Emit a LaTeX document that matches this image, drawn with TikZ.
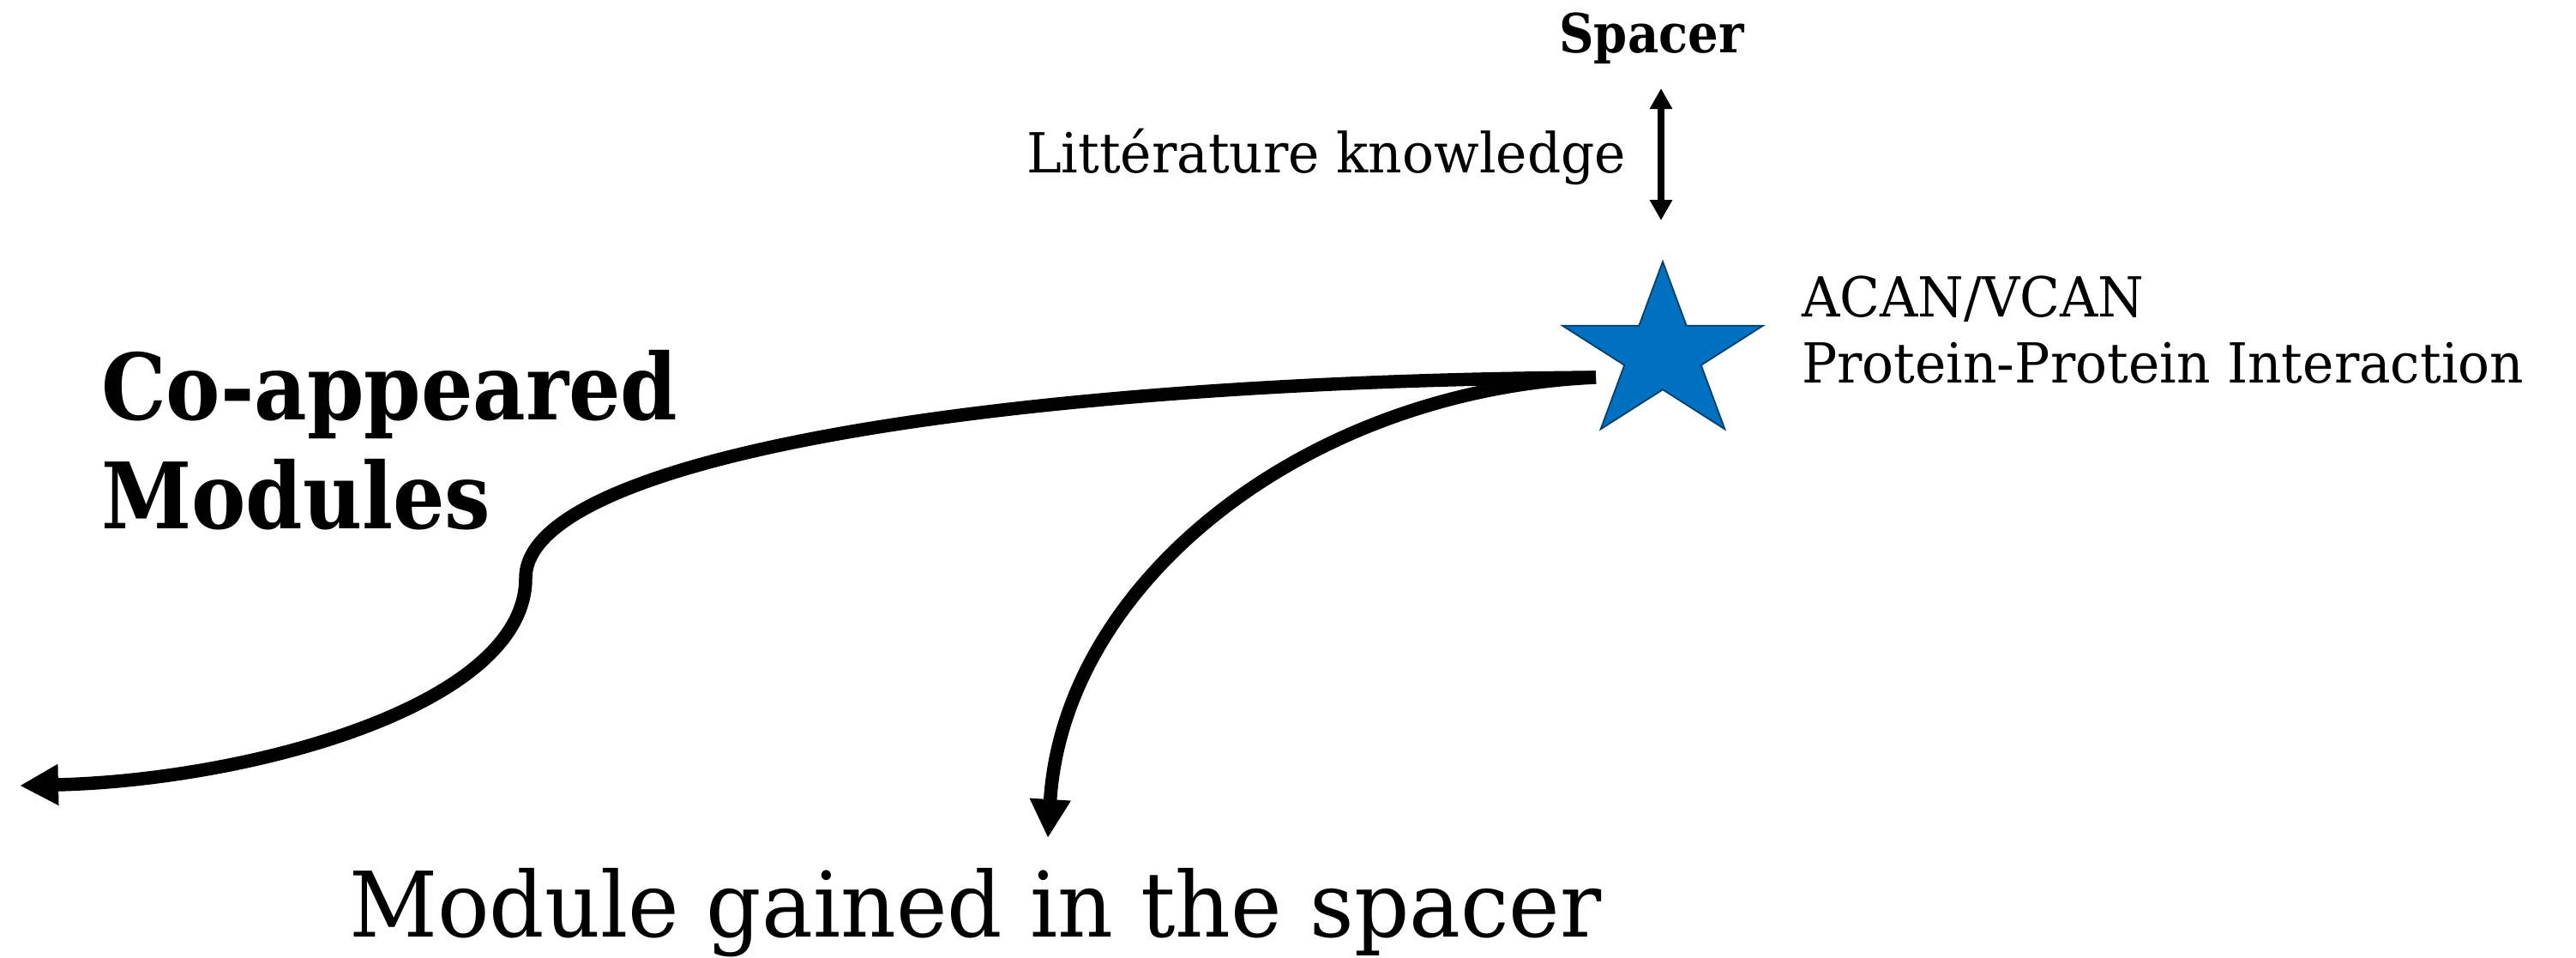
\documentclass[tikz,border=0pt]{standalone}
\usepackage{fontspec}
\setmainfont{DejaVu Serif}[UprightFeatures={FakeStretch=0.955}, BoldFeatures={FakeStretch=0.89}]
\usepackage{tikz}
\usetikzlibrary{arrows.meta,positioning,shapes.geometric}
\definecolor{starblue}{RGB}{0,112,192}

\begin{document}
\begin{tikzpicture}[
  label/.style={inner sep=0pt, outer sep=0pt, align=left},
  hub/.style={star, star points=5, star point ratio=2.618, minimum size=2.16cm, inner sep=0pt, fill=starblue, draw=starblue!55!black, line width=0.5pt},
  flow/.style={line width=0.155cm, -{Triangle[length=0.45cm, width=0.45cm]}},
  twoway/.style={line width=0.08cm, {Triangle[length=0.24cm, width=0.25cm]}-{Triangle[length=0.24cm, width=0.25cm]}}
]
\useasboundingbox (0,0) rectangle (30.04,-11.16);
\node[label, anchor=base, font=\bfseries\fontsize{17.9}{21}\selectfont] (spacer) at (19.26,-0.61) {Spacer};
\node[label, anchor=base east, font=\fontsize{18.3}{22}\selectfont] (lit) at (18.96,-2.01) {Littérature knowledge};
\coordinate (lit-top) at (19.37,-1.03);
\coordinate (lit-bot) at (19.37,-2.57);
\draw[twoway] (lit-top) -- (lit-bot);
\node[label, anchor=west, font=\fontsize{18.3}{22.1}\selectfont] (ppi-text) at (21.01,-3.845) {ACAN/VCAN\\Protein-Protein Interaction};
\node[label, anchor=west, font=\bfseries\fontsize{30.4}{36}\selectfont] (coapp) at (1.18,-5.13) {Co-appeared\\Modules};
\node[label, anchor=base west, font=\fontsize{30}{36}\selectfont] (gained) at (4.07,-10.92) {Module gained in the spacer};
\coordinate (fork) at (18.61,-4.40);
\coordinate (coapp-tip) at (0.23,-9.16);
\coordinate (gained-tip) at (12.22,-9.77);
\draw[flow] (fork) .. controls (11.50,-4.45) and (6.13,-5.36) .. (6.13,-6.74)
  .. controls (6.13,-8.24) and (2.87,-9.10) .. (coapp-tip);
\draw[flow] (fork) .. controls (15.20,-4.55) and (12.40,-6.80) .. (gained-tip);
\begin{scope}[shift={(19.39,-4.13)}, xscale=1.14]
\node[hub, transform shape] (ppi) at (0,0) {};
\end{scope}
\end{tikzpicture}
\end{document}
